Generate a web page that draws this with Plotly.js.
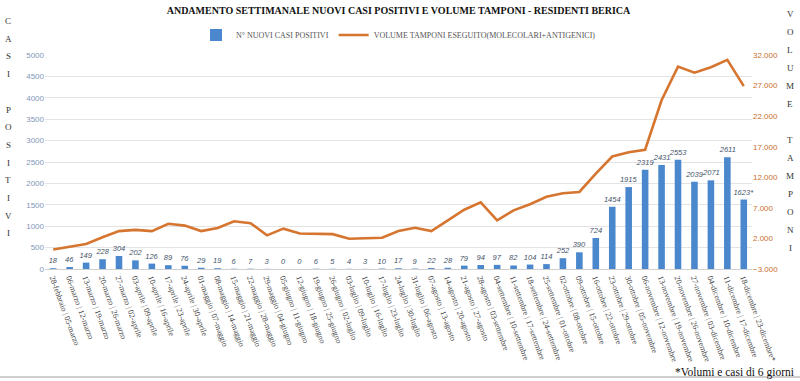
<!DOCTYPE html>
<html>
<head>
<meta charset="utf-8">
<script src="https://cdn.plot.ly/plotly-3.0.1.min.js"></script>
<style>html,body{margin:0;padding:0;background:#fff;}#chart{width:800px;height:381px;}</style>
</head>
<body>
<div id="chart"></div>
<script>
const weeks = [
 "28-febbraio | 05-marzo","06-marzo | 12-marzo","13-marzo | 19-marzo","20-marzo | 26-marzo","27-marzo | 02-aprile",
 "03-aprile | 09-aprile","10-aprile | 16-aprile","17-aprile | 23-aprile","24-aprile | 30-aprile","01-maggio | 07-maggio",
 "08-maggio | 14-maggio","15-maggio | 21-maggio","22-maggio | 28-maggio","29-maggio | 04-giugno","05-giugno | 11-giugno",
 "12-giugno | 18-giugno","19-giugno | 25-giugno","26-giugno | 02-luglio","03-luglio | 09-luglio","10-luglio | 16-luglio",
 "17-luglio | 23-luglio","24-luglio | 30-luglio","31-luglio | 06-agosto","07-agosto | 13-agosto","14-agosto | 20-agosto",
 "21-agosto | 27-agosto","28-agosto | 03-settembre","04-settembre | 10-settembre","11-settembre | 17-settembre","18-settembre | 24-settembre",
 "25-settembre | 01-ottobre","02-ottobre | 08-ottobre","09-ottobre | 15-ottobre","16-ottobre | 22-ottobre","23-ottobre | 29-ottobre",
 "30-ottobre | 05-novembre","06-novembre | 12-novembre","13-novembre | 19-novembre","20-novembre | 26-novembre","27-novembre | 03-dicembre",
 "04-dicembre | 10-dicembre","11-dicembre | 17-dicembre","18-dicembre | 23-dicembre*"
];
const positivi = [18,46,149,228,304,202,126,89,76,29,19,6,7,3,0,0,6,5,4,3,10,17,9,22,28,79,94,97,82,104,114,252,390,724,1454,1915,2319,2431,2553,2039,2071,2611,1623];
const tamponi = [200,600,1100,2200,3200,3400,3200,4400,4100,3200,3700,4800,4500,2500,3600,2800,2800,2700,1950,2000,2100,3200,3750,3200,5000,6700,7900,4950,6600,7600,8800,9400,9600,12600,15400,16100,16500,24600,30100,29100,30000,31200,26900];
const positiviLabels = positivi.map((v,i)=> i===positivi.length-1 ? v+"*" : String(v));
const nameBar = "N° NUOVI CASI POSITIVI";
const nameLine = "VOLUME TAMPONI ESEGUITO(MOLECOLARI+ANTIGENICI)";
const titleText = "ANDAMENTO SETTIMANALE NUOVI CASI POSITIVI E VOLUME TAMPONI - RESIDENTI BERICA";
const leftTitle = "CASI POSITIVI";
const rightTitle = "VOLUME TAMPONI";
const noteText = "*Volumi e casi di 6 giorni";

const serif = "Liberation Serif";
const sans = "Liberation Sans";

const traces = [
 {type:'bar', x:weeks, y:positivi, name:nameBar, yaxis:'y',
  marker:{color:'#4a87cd'}, text:positiviLabels, textposition:'outside', cliponaxis:false, constraintext:'none',
  textfont:{family:sans, size:7.5, color:'#44546a', style:'italic'}, textangle:0},
 {type:'scatter', mode:'lines', x:weeks, y:tamponi, name:nameLine, yaxis:'y2',
  line:{color:'#d6752f', width:2.6}}
];

const annotations = [];
function stack(text, x, y0, step){
  let y = y0;
  for (const ch of text){
    if (ch !== ' ') annotations.push({text:ch, xref:'paper', yref:'paper', x:x, y:y, showarrow:false,
      xanchor:'center', yanchor:'middle', font:{family:serif, size:9, color:'#333'}});
    y -= step;
  }
}
// plot area: top 55px, bottom 269px (214px), left 45px, width 707px
const py = px => (269 - px)/214;
const pxX = px => (px - 45)/707;
stack(leftTitle, pxX(8), py(21), 17.7/214);
stack(rightTitle, pxX(790), py(14), 18/214);
annotations.push({text:noteText, xref:'paper', yref:'paper', x:pxX(796), y:py(372), xanchor:'right', yanchor:'middle',
  showarrow:false, font:{family:serif, size:11.5, color:'#111'}});

const layout = {
 width:800, height:381, paper_bgcolor:'#fff', plot_bgcolor:'#fff',
 margin:{l:45, r:48, t:55, b:112},
 separators:',.',
 title:{text:'<b>'+titleText+'</b>', x:0.5, xref:'paper', xanchor:'center', y:1-10/381, yref:'container', yanchor:'middle',
   font:{family:serif, size:10, color:'#111'}},
 showlegend:true,
 legend:{orientation:'h', x:0.5, xanchor:'center', y:py(35), yanchor:'middle', font:{family:serif, size:8, color:'#555'},
   itemwidth:30, bgcolor:'rgba(0,0,0,0)'},
 bargap:0.6,
 xaxis:{type:'category', range:[-0.5, 42.5], tickangle:70, tickfont:{family:serif, size:8, color:'#404040'},
   showgrid:false, showline:true, linecolor:'#d0d0d0', ticks:'', automargin:false},
 yaxis:{range:[0,5000], dtick:500, tickformat:'d', tickfont:{family:sans, size:8, color:'#7f96b8'},
   gridcolor:'#e3e3e3', zeroline:true, zerolinecolor:'#d0d0d0', showline:false, ticks:'', automargin:false},
 yaxis2:{overlaying:'y', side:'right', range:[-3000,32000], tick0:-3000, dtick:5000, tickformat:',d',
   tickfont:{family:sans, size:8, color:'#c8702f'}, showgrid:false, zeroline:false, showline:false, ticks:'', automargin:false},
 annotations:annotations,
 shapes:[{type:'line', xref:'paper', yref:'paper', x0:pxX(0), x1:pxX(800), y0:py(377), y1:py(377), line:{color:'#bfbfbf', width:1.5}}]
};

Plotly.newPlot('chart', traces, layout, {staticPlot:true, displayModeBar:false});
</script>
</body>
</html>
